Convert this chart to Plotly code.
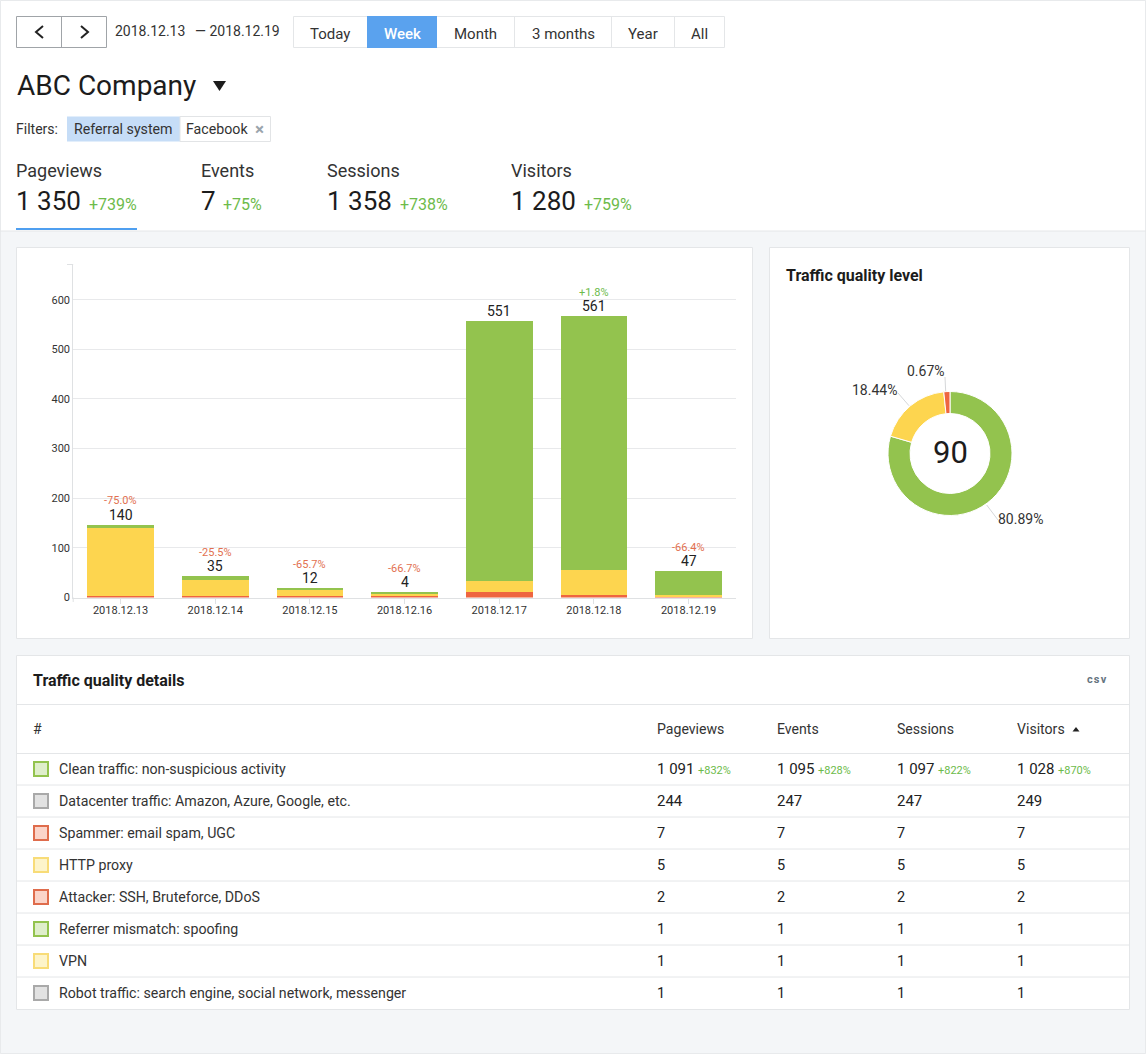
import plotly.graph_objects as go

W, H = 1146, 1054
FONT = "Roboto"
INK = "#222222"
GREEN_TXT = "#6dbb4b"
RED_TXT = "#e2704f"
LINE = "#e4e6e8"
GREEN, YELLOW, RED = "#93c34e", "#fdd54f", "#ee6540"

# ---------- data ----------
dates = ["2018.12.13", "2018.12.14", "2018.12.15", "2018.12.16", "2018.12.17", "2018.12.18", "2018.12.19"]
red_vals = [3, 3, 3, 3, 11, 6, 3]
yellow_vals = [138, 32, 14, 5, 23, 50, 3]
green_vals = [6, 8, 2, 3, 523, 511, 47]
totals = [140, 35, 12, 4, 551, 561, 47]
deltas = ["-75.0%", "-25.5%", "-65.7%", "-66.7%", "", "+1.8%", "-66.4%"]
y_ticks = [0, 100, 200, 300, 400, 500, 600]

donut_values = [79.5, 18.9, 1.6]
donut_labels = ["80.89%", "18.44%", "0.67%"]
donut_center = "90"

range_buttons = ["Today", "Week", "Month", "3 months", "Year", "All"]
metric_names = ["Pageviews", "Events", "Sessions", "Visitors"]
metric_values = ["1 350", "7", "1 358", "1 280"]
metric_changes = ["+739%", "+75%", "+738%", "+759%"]

row_names = ["Clean traffic: non-suspicious activity", "Datacenter traffic: Amazon, Azure, Google, etc.",
             "Spammer: email spam, UGC", "HTTP proxy", "Attacker: SSH, Bruteforce, DDoS",
             "Referrer mismatch: spoofing", "VPN", "Robot traffic: search engine, social network, messenger"]
col_pageviews = ["1 091", "244", "7", "5", "2", "1", "1", "1"]
col_events = ["1 095", "247", "7", "5", "2", "1", "1", "1"]
col_sessions = ["1 097", "247", "7", "5", "2", "1", "1", "1"]
col_visitors = ["1 028", "249", "7", "5", "2", "1", "1", "1"]
first_row_changes = ["+832%", "+828%", "+822%", "+870%"]
row_kinds = ["g", "k", "r", "y", "r", "g", "y", "k"]

# ---------- helpers ----------
def px(x): return x / W
def py(y): return 1 - y / H

shapes, annotations = [], []

def rect(x0, y0, x1, y1, fill="#ffffff", line=None, lw=1):
    shapes.append(dict(type="rect", xref="paper", yref="paper", x0=px(x0), x1=px(x1), y0=py(y0), y1=py(y1),
                       fillcolor=fill, line=dict(color=line or "rgba(0,0,0,0)", width=lw if line else 0), layer="below"))

def seg(x0, y0, x1, y1, color=LINE, lw=1):
    shapes.append(dict(type="line", xref="paper", yref="paper", x0=px(x0), x1=px(x1), y0=py(y0), y1=py(y1),
                       line=dict(color=color, width=lw), layer="below"))

def path(points, fill=None, color=INK, lw=2):
    d = "M" + " L".join(f"{px(a):.5f},{py(b):.5f}" for a, b in points) + (" Z" if fill else "")
    shapes.append(dict(type="path", xref="paper", yref="paper", path=d,
                       fillcolor=fill or "rgba(0,0,0,0)", line=dict(color=color, width=lw if not fill else 0), layer="below"))

def text(x, y, s, size=14, color=INK, anchor="left", weight=None):
    annotations.append(dict(xref="paper", yref="paper", x=px(x), y=py(y), text=s, showarrow=False,
                            xanchor=anchor, yanchor="middle", borderpad=0, borderwidth=0,
                            font=dict(family=FONT, size=size, color=color, weight=weight or 400)))

# ---------- page chrome ----------
rect(0.5, 0.5, 1145.5, 1053.5, fill="#f4f6f8", line="#e8eaec")
rect(1, 1, 1145, 231, fill="#ffffff")
seg(0, 231, 1146, 231, "#e4e6e8")

# nav buttons
rect(16.5, 16.5, 106.5, 47.5, line="#a0a4a8")
seg(61.5, 16.5, 61.5, 47.5, "#a0a4a8")
path([(43, 26), (36, 32), (43, 38)], lw=2)
path([(81, 26), (88, 32), (81, 38)], lw=2)
text(115, 31, "2018.12.13", 14, "#333333")
text(195, 31, "— 2018.12.19", 14, "#333333")

# range buttons
btn_edges = [293.5, 367, 437, 514.5, 611.5, 674.5, 724.5]
rect(btn_edges[0], 16.5, btn_edges[-1], 47.5, line=LINE)
rect(btn_edges[1], 16, btn_edges[2], 48, fill="#5aa2ee")
for e in btn_edges[3:-1]:
    seg(e, 16.5, e, 47.5)
for i, b in enumerate(range_buttons):
    on = b == "Week"
    text((btn_edges[i] + btn_edges[i + 1]) / 2, 34, b, 15, "#ffffff" if on else "#333333", "center", 500 if on else 400)

# company + filters
text(16.5, 86, "ABC Company", 28, "#1c1c1c")
path([(213, 81), (226, 81), (219.5, 91)], fill="#1c1c1c")
text(16, 129, "Filters:", 14, "#333333")
rect(67, 116.5, 180, 141.5, fill="#c6ddf7")
rect(180, 116.5, 270.5, 141.5, line="#e2e4e6")
text(74, 129, "Referral system", 14.2, "#333333")
text(186, 129, "Facebook", 14.2, "#333333")
text(259, 128.5, "×", 17, "#9aa4ac", "center", 700)

# metrics
metric_x = [16, 201, 327, 511]
change_x = [88.5, 223, 399.5, 584]
for mx, cx, n, v, c in zip(metric_x, change_x, metric_names, metric_values, metric_changes):
    text(mx, 170.5, n, 18, "#333333")
    text(mx, 201, v, 26, "#1c1c1c")
    text(cx, 204, c, 16, GREEN_TXT)
rect(16, 228, 137, 230, fill="#4f9ff0")

# panels
rect(16.5, 247.5, 752.5, 638.5, line=LINE)
rect(769.5, 247.5, 1129.5, 638.5, line=LINE)
rect(16.5, 655.5, 1129.5, 1009.5, line=LINE)

# ---------- bars ----------
PLOT_L, PLOT_R, PLOT_T, PLOT_B = 73.2, 735.9, 265, 597.5
fig = go.Figure()
for name, vals, col in [("Attacker", red_vals, RED), ("Suspicious", yellow_vals, YELLOW), ("Clean", green_vals, GREEN)]:
    fig.add_trace(go.Bar(x=dates, y=vals, name=name, marker=dict(color=col, line=dict(width=0)),
                         width=0.705, showlegend=False, hoverinfo="x+y+name"))

tops = [a + b + c for a, b, c in zip(red_vals, yellow_vals, green_vals)]
for d, t, tot, dl in zip(dates, tops, totals, deltas):
    annotations.append(dict(xref="x", yref="y", x=d, y=t, yshift=10, text=str(tot), showarrow=False, yanchor="middle",
                            font=dict(family=FONT, size=14, color=INK)))
    if dl:
        annotations.append(dict(xref="x", yref="y", x=d, y=t, yshift=24, text=dl, showarrow=False, yanchor="middle",
                                font=dict(family=FONT, size=11, color=GREEN_TXT if dl.startswith("+") else RED_TXT)))
seg(PLOT_L, PLOT_B, PLOT_L, 602, "#dfe1e3")
seg(67, 264.5, PLOT_L, 264.5, "#dfe1e3")

# ---------- donut ----------
DX0, DX1, DY0, DY1 = 888, 1012, 391.5, 515.5
fig.add_trace(go.Pie(values=donut_values, labels=donut_labels, hole=0.645, sort=False, direction="clockwise", rotation=0,
                     marker=dict(colors=[GREEN, YELLOW, RED], line=dict(color="#ffffff", width=1)),
                     textinfo="none", showlegend=False,
                     domain=dict(x=[px(DX0), px(DX1)], y=[py(DY1), py(DY0)])))
text(950, 452, donut_center, 31, "#1c1c1c", "center")
for (x, y, lab) in zip((1020.5, 874.5, 925.5), (519, 390, 371), donut_labels):
    text(x, y, lab, 14, "#333333", "center")
seg(986.7, 505, 998, 520, "#d5d7d9")
seg(909, 405.7, 898, 393, "#d5d7d9")
seg(945.7, 391.7, 945, 377, "#d5d7d9")
text(786, 275, "Traffic quality level", 16, "#1c1c1c", weight=700)

# ---------- table ----------
text(33, 680, "Traffic quality details", 16, "#1c1c1c", weight=700)
text(1087, 679, "c\u200as\u200av", 11, "#667480", weight=700)
seg(17, 704.5, 1129, 704.5)
seg(17, 753.5, 1129, 753.5)
col_x = [657, 777, 897, 1017]
text(33, 729, "#", 14, "#333333")
for cx, n in zip(col_x, metric_names):
    text(cx, 729, n, 14.1, "#333333")
path([(1072.5, 731.5), (1079.5, 731.5), (1076, 727)], fill="#222222")

swatch = {"g": ("#93c34e", "#dfeecb"), "k": ("#a9a9a9", "#e2e2e2"), "r": ("#df6c4c", "#fbd4c9"), "y": ("#f8dc78", "#fdf4ca")}
columns = [col_pageviews, col_events, col_sessions, col_visitors]
for i, (name, kind) in enumerate(zip(row_names, row_kinds)):
    yc = 769 + 32 * i
    if i:
        seg(17, yc - 16, 1129, yc - 16)
    b, f = swatch[kind]
    rect(34, yc - 7, 48, yc + 7, fill=f, line=b, lw=2)
    text(59, yc, name, 14.2, "#333333")
    for cx, col in zip(col_x, columns):
        text(cx, yc + (0.5 if i else 0), col[i], 15 if i < 2 else 14.5, "#222222")
for cx, c in zip(col_x, first_row_changes):
    text(cx + 40.5, 770, c, 11, GREEN_TXT)

fig.update_layout(
    width=W, height=H, margin=dict(l=0, r=0, t=0, b=0), autosize=False,
    paper_bgcolor="#f4f6f8", plot_bgcolor="rgba(0,0,0,0)", barmode="stack", bargap=0.295,
    font=dict(family=FONT, color=INK), shapes=shapes, annotations=annotations,
    xaxis=dict(domain=[px(PLOT_L), px(PLOT_R)], type="category", categoryorder="array", categoryarray=dates,
               automargin=False, showgrid=False, zeroline=False, showline=True, linecolor="#dfe1e3", linewidth=1,
               ticks="outside", ticklen=5, tickcolor="#dfe1e3", ticklabelstandoff=-3,
               tickfont=dict(family=FONT, size=11, color="#333333"), fixedrange=True),
    yaxis=dict(domain=[py(PLOT_B), py(PLOT_T)], range=[0, 670], tickvals=y_ticks, automargin=False,
               showgrid=True, gridcolor="#e8e9eb", gridwidth=1,
               zeroline=False, showline=True, linecolor="#dfe1e3", linewidth=1, ticks="",
               tickfont=dict(family=FONT, size=11, color="#333333"), fixedrange=True),
)

fig.write_html("out.html", config=dict(displayModeBar=False),
               post_script="document.body.style.margin='0';document.body.style.overflow='hidden';")
